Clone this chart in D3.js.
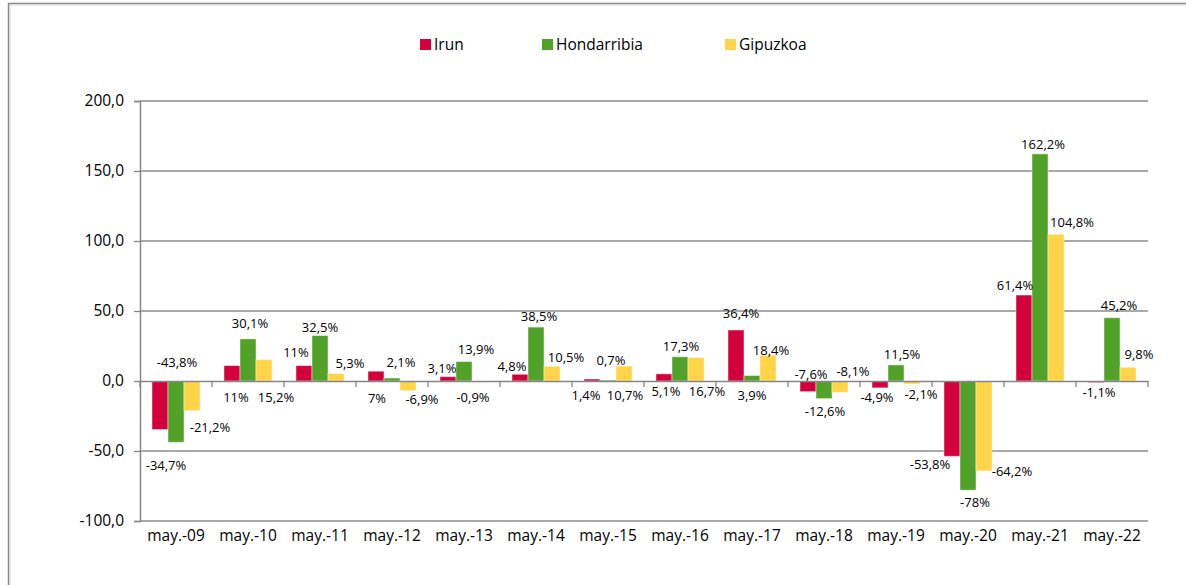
<!DOCTYPE html>
<html>
<head>
<meta charset="utf-8">
<script src="https://cdn.jsdelivr.net/npm/d3@7"></script>
<style>
  body { margin: 0; background: #fff; }
  svg { display: block; font-family: "Open Sans", sans-serif; }
</style>
</head>
<body>
<svg id="chart" width="1186" height="585"></svg>
<script>
// data
const categories = ["may.-09", "may.-10", "may.-11", "may.-12", "may.-13", "may.-14", "may.-15",
                    "may.-16", "may.-17", "may.-18", "may.-19", "may.-20", "may.-21", "may.-22"];
const seriesNames = ["Irun", "Hondarribia", "Gipuzkoa"];
const irun        = [-34.7, 11, 11, 7, 3.1, 4.8, 1.4, 5.1, 36.4, -7.6, -4.9, -53.8, 61.4, -1.1];
const hondarribia = [-43.8, 30.1, 32.5, 2.1, 13.9, 38.5, 0.7, 17.3, 3.9, -12.6, 11.5, -78, 162.2, 45.2];
const gipuzkoa    = [-21.2, 15.2, 5.3, -6.9, -0.9, 10.5, 10.7, 16.7, 18.4, -8.1, -2.1, -64.2, 104.8, 9.8];
const yTicks = [-100, -50, 0, 50, 100, 150, 200];

// label layout: [dx, dy] nudges from the bar end, as placed in the original
const labelNudge = [
  [[6,36],[4,32],[-8,-13],[1,27],[-6,-8],[-8,-8],[-6,16],[2,18],[5,-17],[3,-17],[-3,10],[-22,8],[-9,-10],[3,10]],
  [[1,-80],[2,-15],[0,-8],[9,-16],[12,-12],[3,-11],[3,-20],[1,-10],[0,20],[1,13],[6,-10],[7,12],[3,-9],[7,-12]],
  [[18,17],[12,38],[14,-10],[14,9],[-7,15],[14,-9],[1,29],[11,34],[3,-5],[13,-21],[9,11],[28,1],[16,-12],[11,-13]]
];

const colors = ["#d2003c", "#52a229", "#ffd447"];
const values = [irun, hondarribia, gipuzkoa];

const svg = d3.select("#chart");
const plotLeft = 140, plotRight = 1148, plotTop = 101, plotBottom = 521;

const x = d3.scaleBand().domain(categories).range([plotLeft, plotRight]).padding(0);
const xs = d3.scaleBand().domain(seriesNames)
  .range([x.bandwidth() / 6, x.bandwidth() * 5 / 6]).padding(0);
const y = d3.scaleLinear().domain([-100, 200]).range([plotBottom, plotTop]);

const es = d3.formatLocale({decimal: ",", thousands: ".", grouping: [3], currency: ["", " €"], minus: "-"});
const fmtTick = es.format(".1f");
const fmtLabel = v => (Number.isInteger(v) ? es.format("d")(v) : es.format(".1f")(v)) + "%";

// outer frame
svg.append("path").attr("d", "M8.5,585V3.5H1186")
  .attr("fill", "none").attr("stroke", "#8a8a8a").attr("stroke-width", 1.5);
svg.append("path").attr("d", "M10,585V5H1186")
  .attr("fill", "none").attr("stroke", "#d4d4d4").attr("stroke-width", 1);

// gridlines
svg.append("g").selectAll("line").data(yTicks.filter(d => d !== 0)).enter().append("line")
  .attr("x1", plotLeft).attr("x2", plotRight)
  .attr("y1", d => y(d)).attr("y2", d => y(d))
  .attr("stroke", "#8c8c8c").attr("stroke-width", 1.3);

// y axis
const yAxis = svg.append("g").attr("transform", `translate(${plotLeft},0)`)
  .call(d3.axisLeft(y).tickValues(yTicks).tickFormat(fmtTick).tickSize(6).tickPadding(10));
yAxis.select(".domain").attr("stroke", "#868686").attr("stroke-width", 1.5);
yAxis.selectAll(".tick line").attr("stroke", "#868686").attr("stroke-width", 1.3);
yAxis.selectAll("text").attr("font-size", 15.5).attr("fill", "#000")
  .attr("font-family", "Open Sans");

// bars
values.forEach((vals, s) => {
  svg.append("g").selectAll("rect").data(vals).enter().append("rect")
    .attr("x", (d, i) => x(categories[i]) + xs(seriesNames[s]))
    .attr("width", xs.bandwidth())
    .attr("y", d => y(Math.max(0, d)))
    .attr("height", d => Math.abs(y(d) - y(0)))
    .attr("fill", colors[s])
    .attr("stroke", "rgba(255,255,255,0.45)").attr("stroke-width", 1);
});

// x axis at zero
const xAxis = svg.append("g").attr("transform", `translate(0,${y(0)})`)
  .call(d3.axisBottom(x).tickSize(0).tickFormat(""));
xAxis.select(".domain").attr("stroke", "#868686").attr("stroke-width", 1.5);
svg.append("g").selectAll("line").data(d3.range(categories.length + 1)).enter().append("line")
  .attr("x1", i => plotLeft + i * x.step()).attr("x2", i => plotLeft + i * x.step())
  .attr("y1", y(0)).attr("y2", y(0) + 6)
  .attr("stroke", "#868686").attr("stroke-width", 1.3);

// category labels
svg.append("g").selectAll("text").data(categories).enter().append("text")
  .attr("x", d => x(d) + x.bandwidth() / 2)
  .attr("y", 541)
  .attr("text-anchor", "middle")
  .attr("font-size", 15.5)
  .text(d => d);

// data labels
values.forEach((vals, s) => {
  svg.append("g").selectAll("text").data(vals).enter().append("text")
    .attr("x", (d, i) => x(categories[i]) + xs(seriesNames[s]) + xs.bandwidth() / 2 + labelNudge[s][i][0])
    .attr("y", (d, i) => y(d) + labelNudge[s][i][1])
    .attr("dy", "0.35em")
    .attr("text-anchor", "middle")
    .attr("font-size", 13)
    .attr("fill", "#000")
    .text(d => fmtLabel(d));
});

// legend
const legendX = [420, 542, 725];
const legend = svg.append("g").selectAll("g").data(seriesNames).enter().append("g")
  .attr("transform", (d, i) => `translate(${legendX[i]},39)`);
legend.append("rect").attr("width", 11).attr("height", 11).attr("fill", (d, i) => colors[i]);
legend.append("text").attr("x", 14).attr("y", 11).attr("font-size", 15.5).text(d => d);
</script>
</body>
</html>
